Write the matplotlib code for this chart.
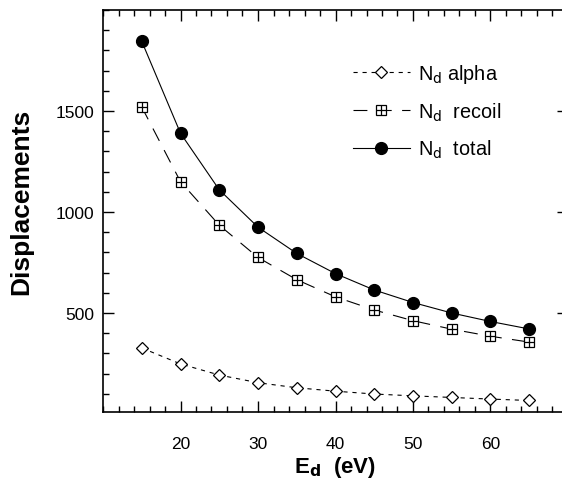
import matplotlib
matplotlib.use("Agg")
import matplotlib.pyplot as plt
from matplotlib.ticker import MultipleLocator, FixedLocator
from matplotlib.legend_handler import HandlerTuple
from matplotlib.lines import Line2D

plt.rcParams['font.family'] = ['Liberation Sans', 'DejaVu Sans']
plt.rcParams['lines.scale_dashes'] = False

energy = [15, 20, 25, 30, 35, 40, 45, 50, 55, 60, 65]
nd_total = [1845, 1390, 1110, 925, 795, 695, 614, 552, 500, 458, 421]
nd_recoil = [1520, 1150, 935, 775, 665, 580, 515, 462, 420, 385, 356]
nd_alpha = [327, 248, 193, 155, 130, 113, 99, 90, 82, 74, 67]

x_ticks = [20, 30, 40, 50, 60]
y_ticks = [500, 1000, 1500]

W, H = 562, 481
fig = plt.figure(figsize=(W / 100, H / 100), dpi=100)
ax = fig.add_axes([103 / W, (H - 413) / H, 465 / W, 402 / H])

lw = 0.8
# alpha
ax.plot(energy, nd_alpha, color='black', lw=lw, dashes=(3, 3.5),
        marker='D', ms=6.5, mfc='white', mec='black', mew=0.9, zorder=3)
# recoil
ax.plot(energy, nd_recoil, color='black', lw=lw, dashes=(10, 7.5),
        marker='s', ms=7.5, mfc='white', mec='black', mew=0.9, zorder=3)
ax.plot(energy, nd_recoil, ls='none', marker='+', ms=7.5, mec='black',
        mew=0.9, zorder=4)
# total
ax.plot(energy, nd_total, color='black', lw=lw, ls='-',
        marker='o', ms=8.5, mfc='black', mec='black', zorder=3)

ax.set_xlim(10, 70)
ax.set_ylim(10, 2000)

ax.xaxis.set_major_locator(FixedLocator(x_ticks))
ax.xaxis.set_minor_locator(MultipleLocator(2))
ax.yaxis.set_major_locator(FixedLocator(y_ticks))
ax.yaxis.set_minor_locator(MultipleLocator(100))
ax.set_xticklabels([str(v) for v in x_ticks])
ax.set_yticklabels([str(v) for v in y_ticks])

ax.tick_params(which='both', direction='in', top=True, right=True,
               width=1.0, colors='black')
ax.tick_params(which='major', length=8)
ax.tick_params(which='minor', length=4)
ax.tick_params(axis='x', which='major', pad=17, labelsize=12.5)
ax.tick_params(axis='y', which='major', pad=6, labelsize=12.5)
for sp in ax.spines.values():
    sp.set_linewidth(1.2)

ax.set_ylabel('Displacements', fontsize=19, fontweight='bold')
ax.yaxis.set_label_coords(-0.176, 0.525)
ax.yaxis.label.set_va('center')
ax.set_xlabel(r'E$_\mathbf{d}$  (eV)', fontsize=16, fontweight='bold')
ax.xaxis.set_label_coords(0.5, -0.135)
ax.xaxis.label.set_va('center')

h_alpha = Line2D([], [], color='black', lw=lw, dashes=(3, 3.5), marker='D',
                 ms=6.5, mfc='white', mec='black', mew=0.9)
h_rec_line = Line2D([], [], color='black', lw=lw, dashes=(10, 7.5), marker='s',
                    ms=7.5, mfc='white', mec='black', mew=0.9)
h_rec_plus = Line2D([], [], ls='none', marker='+', ms=7.5, mec='black', mew=0.9)
h_total = Line2D([], [], color='black', lw=lw, marker='o', ms=8.5,
                 mfc='black', mec='black')

leg = ax.legend([h_alpha, (h_rec_line, h_rec_plus), h_total],
                [r'N$_\mathrm{d}$ alpha', r'N$_\mathrm{d}$  recoil', r'N$_\mathrm{d}$  total'],
                handler_map={tuple: HandlerTuple(ndivide=1)},
                loc='upper left', bbox_to_anchor=(0.538, 0.87),
                frameon=False, fontsize=14.3, handlelength=2.85,
                handletextpad=0.4, labelspacing=0.76, borderpad=0,
                borderaxespad=0, numpoints=1)

fig.savefig('out.png', dpi=100)
